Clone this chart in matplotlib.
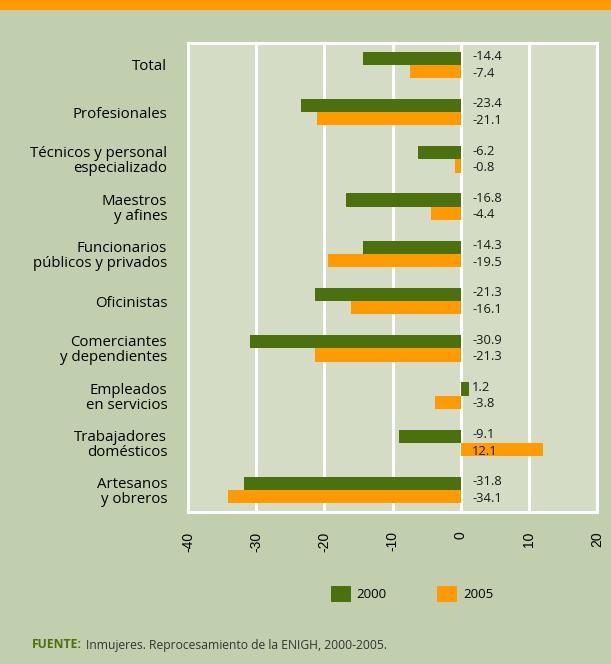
import numpy as np
import matplotlib.pyplot as plt
from matplotlib.patches import Rectangle, Patch

categorias = ["Total", "Profesionales", "Técnicos y personal\nespecializado",
              "Maestros\ny afines", "Funcionarios\npúblicos y privados",
              "Oficinistas", "Comerciantes\ny dependientes", "Empleados\nen servicios",
              "Trabajadores\ndomésticos", "Artesanos\ny obreros"]
valores_2000 = [-14.4, -23.4, -6.2, -16.8, -14.3, -21.3, -30.9, 1.2, -9.1, -31.8]
valores_2005 = [-7.4, -21.1, -0.8, -4.4, -19.5, -16.1, -21.3, -3.8, 12.1, -34.1]
ticks = [-40, -30, -20, -10, 0, 10, 20]

verde = "#4B710F"
naranja = "#FF9A00"
fondo = "#C2CFAE"
fondo_ax = "#D4DCC5"

fig = plt.figure(figsize=(6.11, 6.64), dpi=100, facecolor=fondo)
fig.patches.append(Rectangle((0, 1 - 10 / 664), 1, 10 / 664, transform=fig.transFigure,
                             facecolor=naranja, edgecolor="none"))

ax = fig.add_axes([188 / 611, 152 / 664, 409 / 611, 469 / 664])
ax.set_facecolor(fondo_ax)

y = np.arange(len(categorias))
h = 0.28
ax.barh(y - h / 2, valores_2000, height=h, color=verde, zorder=3)
ax.barh(y + h / 2, valores_2005, height=h, color=naranja, zorder=3)

# etiquetas un poco mas separadas que las barras
d = 0.175
for i in range(len(categorias)):
    ax.text(1.7, y[i] - d, f"{valores_2000[i]:.1f}", va="center", ha="left",
            fontsize=9.3, family="Open Sans", color="#1a1a1a", zorder=4)
    ax.text(1.7, y[i] + d, f"{valores_2005[i]:.1f}", va="center", ha="left",
            fontsize=9.3, family="Open Sans", color="#1a1a1a", zorder=4)

ax.set_xlim(-40, 20)
ax.set_ylim(len(categorias) - 1 + 0.465, -0.465)
ax.set_xticks(ticks)
ax.set_xticklabels([str(t) for t in ticks], rotation=90, fontsize=10, family="Liberation Sans")
ax.set_yticks(y)
ax.set_yticklabels(categorias, fontsize=10.8, family="Open Sans", linespacing=1.0)
ax.tick_params(length=0, pad=14, axis="x")
ax.tick_params(length=0, pad=15, axis="y")
ax.grid(axis="x", color="white", linewidth=2.2, zorder=1)
for s in ax.spines.values():
    s.set_color("white")
    s.set_linewidth(2.2)

handles = [Patch(facecolor=verde, label="2000"), Patch(facecolor=naranja, label="2005")]
fig.legend(handles=handles, loc="center", bbox_to_anchor=(412 / 611, 1 - 594 / 664), ncol=2,
           frameon=False, handlelength=1.52, handleheight=1.52,
           columnspacing=3.8, handletextpad=0.45, prop={"family": "Open Sans", "size": 9.5})

fig.text(32 / 611, 1 - 645 / 664, "FUENTE:", color=verde, fontsize=8.7, fontweight="bold",
         family="Open Sans", va="center")
fig.text(86 / 611, 1 - 645 / 664, "Inmujeres. Reprocesamiento de la ENIGH, 2000-2005.",
         color="#333333", fontsize=8.75, family="Open Sans", va="center")

fig.savefig("out.png", dpi=100, facecolor=fondo)
